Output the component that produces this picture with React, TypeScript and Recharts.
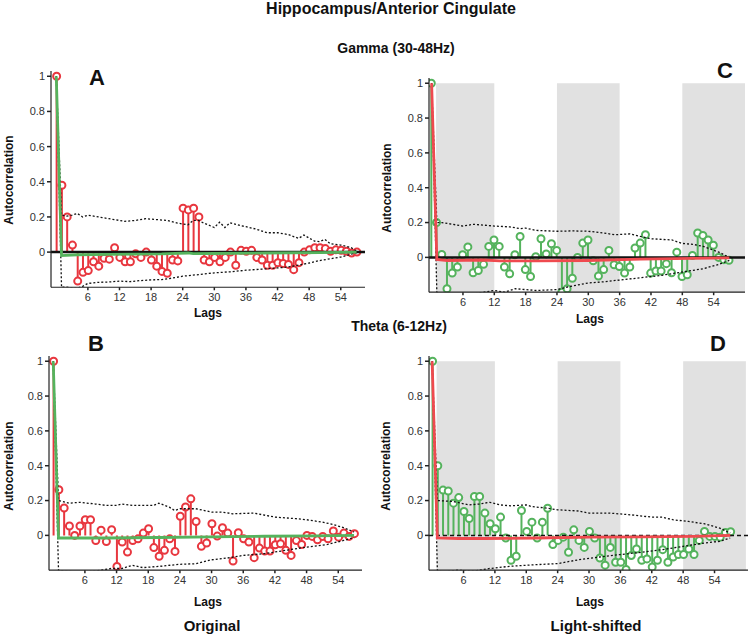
import React from 'react';
import { ComposedChart, Bar, Line, XAxis, YAxis, ReferenceArea } from 'recharts';

// lags 0..57
const lags = [
  0, 1, 2, 3, 4, 5, 6, 7, 8, 9, 10, 11, 12, 13, 14, 15, 16, 17, 18, 19, 20, 21, 22, 23, 24, 25, 26, 27, 28,
  29, 30, 31, 32, 33, 34, 35, 36, 37, 38, 39, 40, 41, 42, 43, 44, 45, 46, 47, 48, 49, 50, 51, 52, 53, 54, 55,
  56, 57,
];
const xTicks = [6, 12, 18, 24, 30, 36, 42, 48, 54];
const yTicks = [0, 0.2, 0.4, 0.6, 0.8, 1];

// autocorrelation values per lag
const gammaOriginal = [
  1, 0.38, 0.2, 0.04, -0.165, -0.115, -0.105, -0.055, -0.08, -0.035, -0.04, 0.025, -0.03, -0.055, -0.055, -0.01,
  -0.03, 0, -0.045, -0.08, -0.11, -0.12, -0.045, -0.05, 0.25, 0.24, 0.25, 0.2, -0.045, -0.055, -0.03, -0.055,
  -0.03, 0, -0.075, 0.01, 0.005, 0.01, -0.03, -0.045, -0.075, -0.075, -0.06, -0.065, -0.07, -0.1, -0.06, 0, 0.013,
  0.025, 0.025, 0.02, 0.005, 0.013, 0.01, 0.005, -0.005, 0,
];
const gammaShifted = [
  1, 0.2, 0.017, -0.18, -0.09, -0.055, 0.015, 0.06, -0.088, -0.075, -0.04, 0.063, 0.1, 0.063, -0.055, -0.094,
  0.015, 0.12, -0.07, -0.11, 0.004, 0.107, 0.02, 0.078, 0.04, -0.2, -0.18, -0.12, 0, 0.082, 0.1, -0.02, -0.107,
  -0.07, 0.04, -0.042, -0.052, -0.09, -0.055, 0.054, 0.082, 0.13, -0.09, -0.078, -0.078, -0.036, -0.088, 0.03,
  -0.11, -0.1, 0.011, 0.14, 0.126, 0.1, 0.07, 0, -0.013, -0.017,
];
const thetaOriginal = [
  1, 0.262, 0.157, 0.054, 0, 0.054, 0.09, 0.09, -0.03, 0.03, -0.035, 0.033, -0.178, -0.038, -0.096, -0.03, -0.02,
  0.013, 0.038, -0.07, -0.12, -0.086, -0.02, -0.092, 0.11, 0.163, 0.21, 0.08, -0.063, -0.044, 0.067, -0.004, 0.044,
  0.013, -0.147, 0.015, -0.02, -0.038, -0.128, -0.073, -0.09, -0.09, -0.054, -0.048, -0.086, -0.115, -0.03, -0.052,
  0, -0.006, -0.025, -0.006, -0.02, 0.025, -0.01, 0.013, -0.006, 0.01,
];
const thetaShifted = [
  1, 0.4, 0.26, 0.255, 0.185, 0.217, 0.137, 0.097, 0.223, 0.223, 0.128, 0.067, 0.038, 0.105, -0.015, -0.143, -0.12,
  0.143, 0.023, 0.076, -0.015, 0.076, 0.156, -0.053, -0.029, -0.01, -0.097, 0.032, -0.029, -0.069, 0.023, -0.015,
  -0.13, -0.171, -0.069, -0.154, -0.154, -0.196, -0.116, -0.078, -0.143, -0.135, -0.181, -0.143, -0.082, -0.154,
  -0.124, -0.11, -0.11, -0.078, -0.11, -0.029, 0.023, -0.006, -0.006, -0.01, 0.017, 0.021,
];

// confidence bounds [lag, value]
const gammaOrigUpper = [
  [0, 1], [1, 0.21], [2, 0.205], [3, 0.21], [4, 0.22], [5, 0.2], [6, 0.21], [8, 0.2], [10, 0.19], [12, 0.18],
  [13, 0.175], [15, 0.18], [17, 0.19], [19, 0.185], [21, 0.18], [23, 0.165], [24, 0.16], [25, 0.155], [26, 0.18],
  [27, 0.18], [28, 0.165], [30, 0.14], [31, 0.17], [32, 0.14], [33, 0.167], [35, 0.15], [36, 0.145], [38, 0.13],
  [40, 0.11], [42, 0.11], [44, 0.1], [46, 0.078], [47, 0.097], [49, 0.063], [50, 0.06], [51, 0.072], [52, 0.048],
  [54, 0.04], [56, 0.025], [57, 0.005],
];
const gammaOrigLower = [
  [0, 1], [1, -0.2], [2, -0.2], [4, -0.205], [5, -0.195], [6, -0.178], [8, -0.172], [10, -0.17], [12, -0.165],
  [14, -0.168], [16, -0.162], [18, -0.158], [20, -0.156], [22, -0.148], [24, -0.137], [27, -0.128], [30, -0.118],
  [33, -0.112], [36, -0.103], [39, -0.097], [42, -0.09], [44, -0.085], [46, -0.074], [48, -0.062], [50, -0.048],
  [52, -0.038], [54, -0.028], [56, -0.012], [57, -0.004],
];
const gammaShiftUpper = [
  [0, 1], [1, 0.2], [2, 0.2], [4, 0.19], [6, 0.18], [8, 0.19], [10, 0.185], [12, 0.18], [15, 0.175], [17, 0.165],
  [18, 0.168], [20, 0.155], [24, 0.15], [27, 0.152], [30, 0.15], [33, 0.14], [35, 0.13], [38, 0.135], [40, 0.12],
  [42, 0.107], [46, 0.1], [48, 0.08], [50, 0.075], [52, 0.063], [55, 0.03], [57, 0],
];
const gammaShiftLower = [
  [0, 1], [1, -0.2], [2, -0.237], [3, -0.22], [5, -0.228], [8, -0.21], [12, -0.19], [14, -0.2], [16, -0.18],
  [20, -0.19], [24, -0.185], [26, -0.17], [30, -0.147], [33, -0.14], [36, -0.13], [40, -0.117], [44, -0.103],
  [48, -0.084], [52, -0.065], [55, -0.04], [57, -0.017],
];
const thetaOrigUpper = [
  [0, 1], [1, 0.2], [3, 0.185], [5, 0.19], [8, 0.18], [10, 0.172], [12, 0.172], [13, 0.18], [15, 0.172],
  [17, 0.172], [19, 0.172], [20, 0.185], [22, 0.162], [23, 0.143], [24, 0.153], [27, 0.153], [30, 0.134],
  [32, 0.134], [34, 0.124], [38, 0.128], [42, 0.105], [46, 0.096], [48, 0.09], [51, 0.076], [53, 0.063],
  [55, 0.044], [57, 0.02],
];
const thetaOrigLower = [
  [0, 1], [1, -0.2], [2, -0.205], [5, -0.21], [8, -0.205], [11, -0.19], [13, -0.19], [15, -0.172], [17, -0.185],
  [20, -0.178], [24, -0.166], [27, -0.163], [30, -0.14], [33, -0.13], [36, -0.115], [40, -0.105], [44, -0.086],
  [48, -0.067], [52, -0.052], [55, -0.029], [57, -0.013],
];
const thetaShiftUpper = [
  [0, 1], [1, 0.2], [4, 0.195], [7, 0.175], [9, 0.18], [11, 0.19], [13, 0.175], [15, 0.17], [18, 0.175],
  [19, 0.166], [22, 0.156], [24, 0.147], [28, 0.14], [30, 0.128], [34, 0.128], [38, 0.118], [42, 0.105],
  [44, 0.105], [46, 0.09], [49, 0.08], [52, 0.067], [55, 0.042], [57, 0.013],
];
const thetaShiftLower = [
  [0, 1], [1, -0.2], [2, -0.21], [5, -0.2], [8, -0.205], [11, -0.19], [12, -0.187], [15, -0.177], [20, -0.168],
  [24, -0.162], [28, -0.14], [32, -0.124], [36, -0.11], [40, -0.097], [44, -0.082], [48, -0.063], [52, -0.044],
  [55, -0.034], [57, -0.015],
];

// mean of the other condition [lag, value]
const gammaOrigMean = [
  [0, 1], [1, -0.02], [4, -0.015], [10, -0.013], [20, -0.01], [25, -0.005], [26, -0.009], [30, -0.008], [40, -0.005],
  [50, -0.003], [57, 0],
];
const gammaShiftMean = [
  [0, 1], [1, -0.012], [3, -0.018], [10, -0.015], [13, -0.02], [20, -0.02], [30, -0.018], [40, -0.01], [50, -0.006],
  [57, -0.003],
];
const thetaOrigMean = [
  [0, 1], [1, -0.015], [10, -0.015], [20, -0.012], [30, -0.008], [40, -0.005], [50, -0.003], [57, 0],
];
const thetaShiftMean = [
  [0, 1], [1, -0.015], [5, -0.018], [10, -0.018], [20, -0.015], [30, -0.01], [40, -0.008], [50, -0.006], [57, 0],
];

const lightBands = [
  [0.85, 12],
  [24, 36],
  [48, 60],
];

const RED = '#e8373f';
const RED_LINE = '#ef4a4f';
const GREEN = '#55b35d';
const FONT = '"Liberation Sans", Arial, sans-serif';
const Y_TOP = 1.03;

const toPoints = (pairs: number[][]) => pairs.map(([lag, v]) => ({ lag, v }));

const makeStem = (color: string) => (props: any) => {
  const { x, y, width, height, payload } = props;
  if (x == null || y == null) return <g />;
  const cx = x + width / 2;
  const top = Math.min(y, y + height);
  const bot = Math.max(y, y + height);
  const up = payload.value >= 0;
  const vy = up ? top : bot;
  const by = up ? bot : top;
  return (
    <g>
      <line x1={cx} x2={cx} y1={by} y2={vy} stroke={color} strokeWidth={2} />
      <circle cx={cx} cy={vy} r={3.5} fill="#fff" stroke={color} strokeWidth={2} />
    </g>
  );
};

interface PanelProps {
  values: number[];
  stemColor: string;
  mean: number[][];
  meanColor: string;
  upper: number[][];
  lower: number[][];
  plot: { left: number; right: number; top: number; bottom: number };
  xDomain: [number, number];
  bands?: number[][];
  zero: 'solid' | 'dashed' | 'none';
}

const Panel: React.FC<PanelProps> = ({ values, stemColor, mean, meanColor, upper, lower, plot, xDomain, bands, zero }) => {
  const yAxisW = 45;
  const pad = 8;
  const xAxisH = 30;
  const data = lags.map((lag, i) => ({ lag, value: values[i] }));
  const zeroLine = [
    { lag: xDomain[0], v: 0 },
    { lag: xDomain[1], v: 0 },
  ];
  // plot.top is where y = 1 sits; leave a little headroom for the lag-0 marker
  const unit = (plot.bottom - plot.top) / 1.2;
  const top = plot.top - (Y_TOP - 1) * unit;
  return (
    <div
      style={{
        position: 'absolute',
        left: plot.left - yAxisW,
        top: top - pad,
      }}
    >
      <ComposedChart
        width={plot.right - plot.left + yAxisW + pad}
        height={plot.bottom - top + pad + xAxisH}
        data={data}
        margin={{ top: pad, right: pad, left: 0, bottom: 0 }}
      >
        <XAxis
          dataKey="lag"
          type="number"
          domain={xDomain}
          allowDataOverflow
          ticks={xTicks}
          interval={0}
          height={xAxisH}
          tickSize={3}
          tickMargin={3}
          axisLine={{ stroke: '#222', strokeWidth: 1.2 }}
          tickLine={{ stroke: '#222', strokeWidth: 1.5 }}
          tick={{ fontSize: 11, fill: '#333', fontFamily: FONT }}
        />
        <YAxis
          type="number"
          domain={[-0.2, Y_TOP]}
          allowDataOverflow
          ticks={yTicks}
          width={yAxisW}
          tickSize={4}
          tickMargin={2}
          tickFormatter={(v: number) => String(Math.round(v * 10) / 10)}
          axisLine={{ stroke: '#222', strokeWidth: 1.2 }}
          tickLine={{ stroke: '#222', strokeWidth: 1.5 }}
          tick={{ fontSize: 11, fill: '#333', fontFamily: FONT }}
        />
        {(bands || []).map(([a, b], i) => (
          <ReferenceArea key={i} x1={a} x2={b} y1={-0.2} y2={1} fill="#e1e1e1" fillOpacity={1} stroke="none" />
        ))}
        {zero !== 'none' && (
          <Line
            data={zeroLine}
            dataKey="v"
            stroke="#111"
            strokeWidth={zero === 'solid' ? 2.5 : 1.5}
            strokeDasharray={zero === 'dashed' ? '4 3' : undefined}
            dot={false}
            isAnimationActive={false}
          />
        )}
        <Line
          data={toPoints(upper)}
          dataKey="v"
          stroke="#111"
          strokeWidth={1.3}
          strokeDasharray="2 2"
          dot={false}
          isAnimationActive={false}
        />
        <Line
          data={toPoints(lower)}
          dataKey="v"
          stroke="#111"
          strokeWidth={1.3}
          strokeDasharray="2 2"
          dot={false}
          isAnimationActive={false}
        />
        <Bar dataKey="value" barSize={2} fill={stemColor} shape={makeStem(stemColor)} isAnimationActive={false} />
        <Line
          data={toPoints(mean)}
          dataKey="v"
          stroke={meanColor}
          strokeWidth={2.8}
          dot={false}
          isAnimationActive={false}
        />
      </ComposedChart>
    </div>
  );
};

const App: React.FC = () => {
  const bold = { fontFamily: FONT, fontWeight: 700, fill: '#111' } as const;
  return (
    <div style={{ position: 'absolute', left: 0, top: 0, width: 750, height: 636, background: '#fff' }}>
      <Panel
        values={gammaOriginal}
        stemColor={RED}
        mean={gammaOrigMean}
        meanColor={GREEN}
        upper={gammaOrigUpper}
        lower={gammaOrigLower}
        plot={{ left: 51, right: 365, top: 76, bottom: 287 }}
        xDomain={[-1, 58.6]}
        zero="solid"
      />
      <Panel
        values={gammaShifted}
        stemColor={GREEN}
        mean={gammaShiftMean}
        meanColor={RED_LINE}
        upper={gammaShiftUpper}
        lower={gammaShiftLower}
        plot={{ left: 429, right: 745, top: 83, bottom: 292 }}
        xDomain={[-0.5, 60]}
        bands={lightBands}
        zero="solid"
      />
      <Panel
        values={thetaOriginal}
        stemColor={RED}
        mean={thetaOrigMean}
        meanColor={GREEN}
        upper={thetaOrigUpper}
        lower={thetaOrigLower}
        plot={{ left: 49, right: 362, top: 361, bottom: 570 }}
        xDomain={[-0.8, 58.5]}
        zero="none"
      />
      <Panel
        values={thetaShifted}
        stemColor={GREEN}
        mean={thetaShiftMean}
        meanColor={RED_LINE}
        upper={thetaShiftUpper}
        lower={thetaShiftLower}
        plot={{ left: 429, right: 748, top: 361, bottom: 570 }}
        xDomain={[-0.6, 60.4]}
        bands={lightBands}
        zero="dashed"
      />
      <svg width={750} height={636} style={{ position: 'absolute', left: 0, top: 0, pointerEvents: 'none' }}>
        <text x={391} y={14} textAnchor="middle" fontSize={16} {...bold}>
          Hippocampus/Anterior Cingulate
        </text>
        <text x={396} y={53} textAnchor="middle" fontSize={14} {...bold}>
          Gamma (30-48Hz)
        </text>
        <text x={399} y={331} textAnchor="middle" fontSize={14} {...bold}>
          Theta (6-12Hz)
        </text>
        <text x={97} y={85} textAnchor="middle" fontSize={22} {...bold}>A</text>
        <text x={725} y={78} textAnchor="middle" fontSize={22} {...bold}>C</text>
        <text x={96} y={351} textAnchor="middle" fontSize={22} {...bold}>B</text>
        <text x={718} y={351} textAnchor="middle" fontSize={22} {...bold}>D</text>
        <text x={13} y={180} textAnchor="middle" fontSize={12} transform="rotate(-90 13 180)" {...bold}>
          Autocorrelation
        </text>
        <text x={391} y={188} textAnchor="middle" fontSize={12} transform="rotate(-90 391 188)" {...bold}>
          Autocorrelation
        </text>
        <text x={13} y={466} textAnchor="middle" fontSize={12} transform="rotate(-90 13 466)" {...bold}>
          Autocorrelation
        </text>
        <text x={390} y={466} textAnchor="middle" fontSize={12} transform="rotate(-90 390 466)" {...bold}>
          Autocorrelation
        </text>
        <text x={208} y={317} textAnchor="middle" fontSize={12} {...bold}>Lags</text>
        <text x={590} y={323} textAnchor="middle" fontSize={12} {...bold}>Lags</text>
        <text x={208} y={606} textAnchor="middle" fontSize={12} {...bold}>Lags</text>
        <text x={590} y={606} textAnchor="middle" fontSize={12} {...bold}>Lags</text>
        <text x={212} y={631} textAnchor="middle" fontSize={15} {...bold}>Original</text>
        <text x={596} y={631} textAnchor="middle" fontSize={15} {...bold}>Light-shifted</text>
      </svg>
    </div>
  );
};

export default App;
